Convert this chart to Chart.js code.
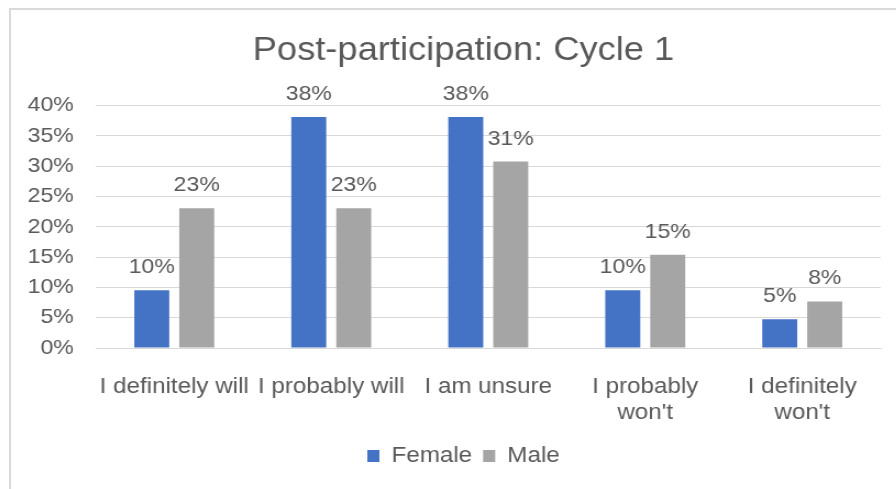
<!DOCTYPE html>
<html>
<head>
<meta charset="utf-8">
<script src="https://cdn.jsdelivr.net/npm/chart.js@4/dist/chart.umd.min.js"></script>
<style>
  html, body { margin: 0; padding: 0; background: #fff; overflow: hidden; width: 896px; height: 489px; }
  #frame { position: absolute; left: 9px; top: 8px; width: 920px; height: 500px; border-left: 2px solid #D9D9D9; border-top: 2px solid #D9D9D9; }
  #c { position: absolute; left: 10px; top: 9px; width: 907px; height: 490px; }
</style>
</head>
<body>
<div id="frame"></div>
<canvas id="c" width="825" height="490" style="width:907px;height:490px"></canvas>
<script>
const categories = [["I definitely will"], ["I probably will"], ["I am unsure"], ["I probably", "won't"], ["I definitely", "won't"]];
const femaleValues = [9.52, 38.1, 38.1, 9.52, 4.76];
const maleValues = [23.08, 23.08, 30.77, 15.38, 7.69];
const seriesNames = ["Female", "Male"];
const titleText = "Post-participation: Cycle 1";

const FONT = "'Liberation Sans', Arial, sans-serif";
const TXT = "#595959";

const labelPlugin = {
  id: 'barLabels',
  afterDatasetsDraw(chart) {
    const ctx = chart.ctx;
    ctx.save();
    ctx.font = "21px " + FONT;
    ctx.fillStyle = TXT;
    ctx.textAlign = 'center';
    ctx.textBaseline = 'alphabetic';
    chart.data.datasets.forEach((ds, i) => {
      chart.getDatasetMeta(i).data.forEach((bar, j) => {
        ctx.fillText(Math.round(ds.data[j]) + '%', bar.x, bar.y - 17);
      });
    });
    ctx.restore();
  }
};

new Chart(document.getElementById('c'), {
  type: 'bar',
  data: {
    labels: categories,
    datasets: [
      { label: seriesNames[0], data: femaleValues, backgroundColor: '#4472C4' },
      { label: seriesNames[1], data: maleValues, backgroundColor: '#A5A5A5' }
    ]
  },
  options: {
    responsive: false,
    devicePixelRatio: 1,
    animation: false,
    layout: { padding: { top: 10, left: 33, right: 33, bottom: 22 } },
    datasets: { bar: { categoryPercentage: 0.573, barPercentage: 0.778 } },
    plugins: {
      title: {
        display: true, text: titleText, color: TXT,
        font: { family: FONT, size: 33, weight: 'normal', lineHeight: 1.2 },
        padding: { top: 12, bottom: 35 }
      },
      legend: {
        position: 'bottom',
        labels: { color: TXT, font: { family: FONT, size: 22 }, boxWidth: 11, boxHeight: 12, padding: 10 }
      },
      tooltip: { enabled: false }
    },
    scales: {
      x: {
        afterFit(scale) { scale.height = 87; },
        grid: { display: false },
        border: { display: true, color: '#D9D9D9' },
        ticks: { color: TXT, font: { family: FONT, size: 22, lineHeight: 1.17 }, maxRotation: 0, autoSkip: false, padding: 18 }
      },
      y: {
        min: 0, max: 40,
        afterFit(scale) { scale.width = 45; scale._computeLabelArea = () => undefined; },
        grid: { color: '#D9D9D9', drawTicks: false, lineWidth: 1 },
        border: { display: false },
        ticks: { stepSize: 5, color: TXT, font: { family: FONT, size: 21 }, padding: 20, callback: v => v + '%' }
      }
    }
  },
  plugins: [labelPlugin]
});
</script>
</body>
</html>
